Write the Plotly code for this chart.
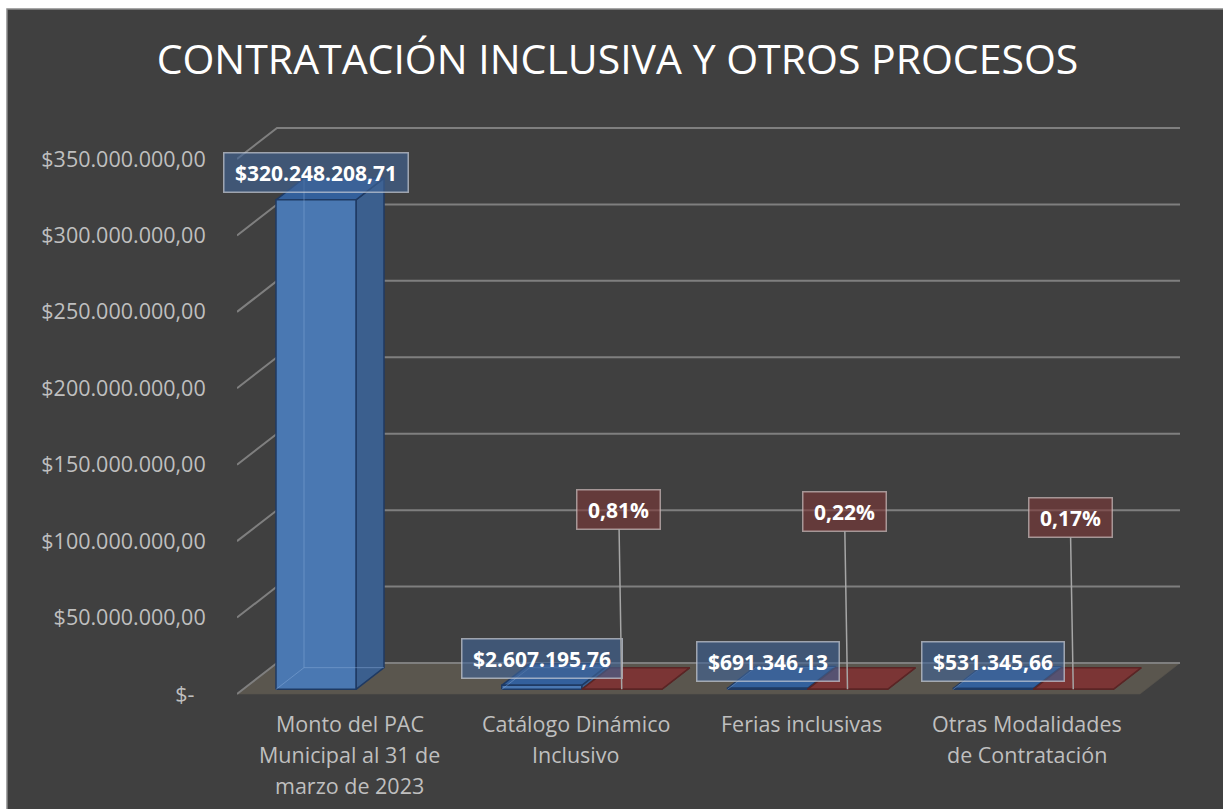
import plotly.graph_objects as go

# ---- data -------------------------------------------------------------
categorias = [
    "Monto del PAC\nMunicipal al 31 de\nmarzo de 2023",
    "Catálogo Dinámico\nInclusivo",
    "Ferias inclusivas",
    "Otras Modalidades\nde Contratación",
]
montos = [320248208.71, 2607195.76, 691346.13, 531345.66]
porcentajes = [None, 0.81, 0.22, 0.17]          # share of the PAC, in %
y_ticks = [0, 50e6, 100e6, 150e6, 200e6, 250e6, 300e6, 350e6]
y_tick_labels = ["$-\u00a0\u00a0", "$50.000.000,00", "$100.000.000,00", "$150.000.000,00",
                 "$200.000.000,00", "$250.000.000,00", "$300.000.000,00", "$350.000.000,00"]
titulo = "CONTRATACIÓN INCLUSIVA Y OTROS PROCESOS"

# ---- pseudo-3D geometry (axis units) ----------------------------------
W_FIG, H_FIG = 1223, 809
PLOT_L, PLOT_R, PLOT_T, PLOT_B = 237, 1180, 100, 700
N = len(categorias)
CAT_PX = 225.75                      # pixels per category
Y_PER_PX = 50e6 / 76.43              # dollars per pixel
DX = 40 / CAT_PX                     # depth shift along x (category units)
DY = 31 * Y_PER_PX                   # depth shift along y (dollars)
GAP = 33 / CAT_PX                    # space before the first column of a group
BW = 80 / CAT_PX                     # column width
D0, D1 = 0.15, 0.85                  # column front / back depth
FRONT_ZERO_PX = 694

x_range = [0, N + DX]
y_range = [-(PLOT_B - FRONT_ZERO_PX) * Y_PER_PX, (FRONT_ZERO_PX - PLOT_T) * Y_PER_PX]


def proj(x, y, d):
    return x + d * DX, y + d * DY


def poly(points):
    xs, ys = zip(*[proj(*p) for p in points])
    return list(xs) + [xs[0]], list(ys) + [ys[0]]


def fmt_money(v):
    s = f"{v:,.2f}".replace(",", "X").replace(".", ",").replace("X", ".")
    return "$" + s


def fmt_pct(p):
    return f"{p:.2f}".replace(".", ",") + "%"


BG = "#404040"
GRID = "#7f7f7f"
FLOOR = "#5a564e"
BLUE = dict(front="#4a78b2", side="#3b5f8e", top="#33609c", edge="#1f3a63",
            inner="rgba(140,175,220,0.45)")
RED = dict(front="#5e2a2a", side="#5e2a2a", top="#7b3535", edge="#5a2525",
           inner="rgba(0,0,0,0)")
PAD = "\u00a0"

fig = go.Figure()


def add_poly(points, fill, edge, width=1.5):
    xs, ys = poly(points)
    fig.add_trace(go.Scatter(x=xs, y=ys, mode="lines", fill="toself",
                             fillcolor=fill, line=dict(color=edge, width=width),
                             hoverinfo="skip", showlegend=False))


def add_line(points, color, width):
    xs, ys = zip(*[proj(*p) for p in points])
    fig.add_trace(go.Scatter(x=list(xs), y=list(ys), mode="lines",
                             line=dict(color=color, width=width),
                             hoverinfo="skip", showlegend=False))


# floor
add_poly([(0, 0, 0), (N, 0, 0), (N, 0, 1), (0, 0, 1)], FLOOR, FLOOR, 0.5)

# gridlines on the side and back walls
for t in y_ticks:
    add_line([(0, t, 0), (0, t, 1), (N, t, 1)], GRID, 2)


def add_column(x0, v, style):
    x1 = x0 + BW
    add_poly([(x1, 0, D0), (x1, 0, D1), (x1, v, D1), (x1, v, D0)], style["side"], style["edge"])
    add_poly([(x0, v, D0), (x1, v, D0), (x1, v, D1), (x0, v, D1)], style["top"], style["edge"])
    add_poly([(x0, 0, D0), (x1, 0, D0), (x1, v, D0), (x0, v, D0)], style["front"], style["edge"])
    # back edges seen through the glassy front face
    add_line([(x0, 0, D0), (x0, 0, D1), (x1, 0, D1)], style["inner"], 1)
    add_line([(x0, 0, D1), (x0, v, D1)], style["inner"], 1)


annotations = []
for i, (m, p) in enumerate(zip(montos, porcentajes)):
    xb = i + GAP
    add_column(xb, m, BLUE)
    if p is not None:
        add_column(xb + BW, p / 100, RED)

    bx, by = proj(xb + BW / 2, m, D0)
    annotations.append(dict(
        x=bx, y=by, xref="x", yref="y", yshift=27, showarrow=False,
        text=f"{PAD}<b>{fmt_money(m)}</b>{PAD}",
        font=dict(family="Open Sans", size=21, color="#ffffff"),
        bgcolor="rgba(65,100,150,0.62)", bordercolor="rgba(200,205,215,0.7)",
        borderwidth=1.5, borderpad=5))

# share labels lifted above the floor with leader lines
pct_lift_px = [None, -180, -178, -172]
for i, p in enumerate(porcentajes):
    if p is None:
        continue
    rx, ry = proj(i + GAP + BW * 1.5, p / 100, D0)
    annotations.append(dict(
        x=rx, y=ry, xref="x", yref="y", showarrow=True, arrowhead=0,
        arrowwidth=1.5, arrowcolor="#a6a6a6", ax=-3, ay=pct_lift_px[i],
        text=f"{PAD}<b>{fmt_pct(p)}</b>{PAD}",
        font=dict(family="Open Sans", size=21, color="#ffffff"),
        bgcolor="rgba(125,55,55,0.6)", bordercolor="rgba(205,190,190,0.7)",
        borderwidth=1.5, borderpad=5))

# category labels, one line each
for i, cat in enumerate(categorias):
    for k, line in enumerate(cat.split("\n")):
        annotations.append(dict(
            x=i + 0.5, y=0, xref="x", yref="paper", yanchor="middle",
            yshift=-(23 + 31 * k), showarrow=False, text=line,
            font=dict(family="Open Sans", size=21.5, color="#bfbfbf")))

# chart background panel with a thin frame
pw = PLOT_R - PLOT_L
ph = PLOT_B - PLOT_T
shapes = [dict(
    type="rect", xref="paper", yref="paper", layer="below",
    x0=(7 - PLOT_L) / pw, x1=(W_FIG + 10 - PLOT_L) / pw,
    y0=(PLOT_B - H_FIG - 10) / ph, y1=(PLOT_B - 9) / ph,
    fillcolor=BG, line=dict(color="#8a8a8a", width=1.5))]

fig.update_layout(
    width=W_FIG, height=H_FIG,
    margin=dict(l=PLOT_L, r=W_FIG - PLOT_R, t=PLOT_T, b=H_FIG - PLOT_B),
    paper_bgcolor="#ffffff", plot_bgcolor="rgba(0,0,0,0)",
    font=dict(family="Open Sans", color="#bfbfbf"),
    title=dict(text=titulo, x=617.5 / W_FIG, xref="container", xanchor="center",
               y=1 - 60 / H_FIG, yref="container", yanchor="middle",
               font=dict(family="Open Sans", size=41, color="#ffffff")),
    xaxis=dict(range=x_range, showgrid=False, zeroline=False, showticklabels=False,
               fixedrange=True),
    yaxis=dict(range=y_range, showgrid=False, zeroline=False,
               tickvals=y_ticks, ticktext=y_tick_labels, ticks="outside",
               ticklen=26, tickcolor="rgba(0,0,0,0)",
               tickfont=dict(family="Open Sans", size=21.5, color="#bfbfbf"),
               fixedrange=True),
    shapes=shapes, annotations=annotations, showlegend=False,
)

fig.write_html("out.html")
